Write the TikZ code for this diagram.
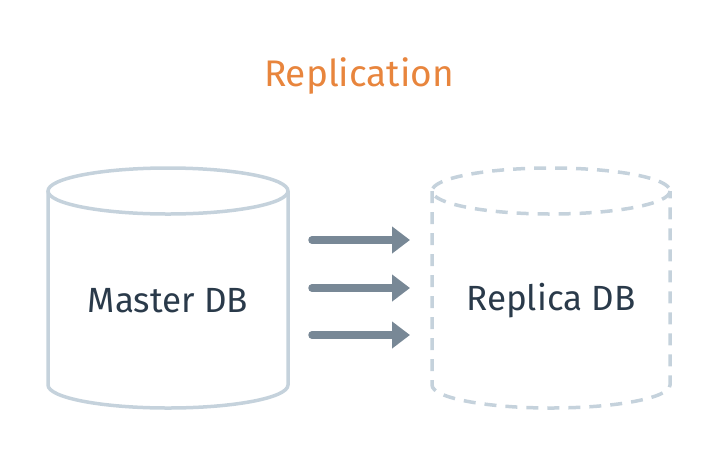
\documentclass[tikz,border=0pt]{standalone}
\usepackage{fontspec}
\setmainfont{Fira Sans}
\usepackage{tikz}
\usetikzlibrary{arrows.meta, calc}

\definecolor{dbline}{HTML}{C5D2DC}
\definecolor{arrowgray}{HTML}{788896}
\definecolor{labeltext}{HTML}{2A3A4A}
\definecolor{titleorange}{HTML}{E8853D}

\begin{document}
\begin{tikzpicture}[x=1pt, y=-1pt,
  dbshape/.style={line width=3.5pt, draw=dbline},
  dbcopy/.style={dbshape, dash pattern=on 12pt off 9pt},
  dblabel/.style={text=labeltext, font=\fontsize{35}{38}\selectfont},
  repl/.style={line width=7.5pt, draw=arrowgray, line cap=round, -{Triangle[length=18pt, width=26pt]}}]
\useasboundingbox (0,0) rectangle (720,456);

% Title
\node[text=titleorange, font=\fontsize{37}{40}\selectfont] (title) at (359,76) {Replication};

% Master cylinder
\draw[dbshape] (168,191) ellipse (120 and 23);
\draw[dbshape] (48,191) -- (48,385) arc (180:0:120 and 23) -- (288,191);
\node[dblabel] (master) at (168,301) {Master DB};

% Replica cylinder (dashed)
\draw[dbcopy] (551,191) ellipse (119 and 23);
\draw[dbcopy] (432,191) -- (432,385) arc (180:0:119 and 23) -- (670,191);
\node[dblabel] (replica) at (551,301) {Replica DB};

% Replication arrows
\foreach \row/\y in {a/240, b/288, c/335} {
  \coordinate (src-\row) at (312,\y);
  \coordinate (dst-\row) at (410,\y);
  \draw[repl] (src-\row) -- (dst-\row);
}
\end{tikzpicture}
\end{document}
